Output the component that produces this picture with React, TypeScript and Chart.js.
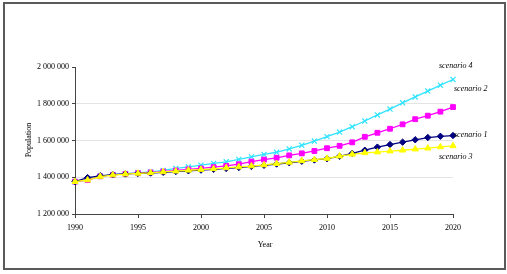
import React, { useEffect, useRef } from "react";
import { Chart, registerables } from "chart.js";

Chart.register(...registerables);

// Years on the horizontal axis
const years = [
  1990, 1991, 1992, 1993, 1994, 1995, 1996, 1997, 1998, 1999, 2000,
  2001, 2002, 2003, 2004, 2005, 2006, 2007, 2008, 2009, 2010,
  2011, 2012, 2013, 2014, 2015, 2016, 2017, 2018, 2019, 2020,
];

// Population projections per scenario
const scenario1 = [
  1376000, 1398000, 1408000, 1414000, 1418000, 1421000, 1423000, 1427000, 1431000, 1435000, 1439000,
  1443000, 1448000, 1453000, 1459000, 1465000, 1472000, 1479000, 1487000, 1494000, 1501000,
  1514000, 1530000, 1547000, 1564000, 1578000, 1591000, 1604000, 1616000, 1623000, 1627000,
];
const scenario2 = [
  1376000, 1385000, 1405000, 1413000, 1418000, 1422000, 1426000, 1431000, 1437000, 1443000, 1448000,
  1455000, 1462000, 1471000, 1485000, 1496000, 1506000, 1519000, 1530000, 1543000, 1558000,
  1571000, 1590000, 1620000, 1642000, 1664000, 1688000, 1716000, 1735000, 1757000, 1782000,
];
const scenario3 = [
  1376000, 1385000, 1404000, 1412000, 1417000, 1421000, 1424000, 1429000, 1433000, 1438000, 1442000,
  1446000, 1451000, 1456000, 1461000, 1467000, 1474000, 1481000, 1489000, 1496000, 1502000,
  1515000, 1525000, 1533000, 1537000, 1542000, 1547000, 1553000, 1558000, 1565000, 1571000,
];
const scenario4 = [
  1376000, 1385000, 1405000, 1414000, 1419000, 1424000, 1429000, 1437000, 1448000, 1457000, 1466000,
  1475000, 1484000, 1497000, 1511000, 1524000, 1536000, 1554000, 1574000, 1597000, 1621000,
  1646000, 1675000, 1706000, 1739000, 1771000, 1805000, 1837000, 1869000, 1901000, 1932000,
];

const seriesNames = ["scenario 1", "scenario 2", "scenario 3", "scenario 4"];
const seriesValues = [scenario1, scenario2, scenario3, scenario4];
const seriesColors = ["#000080", "#ff00ff", "#ffff00", "#30e4ff"];
const seriesMarkers = ["rectRot", "rect", "triangle", "crossRot"];
const seriesRadius = [3.2, 3.4, 3.6, 3.6];
const seriesDrawOrder = [2, 3, 1, 4];

const yMin = 1200000;
const yMax = 2000000;
const yStep = 200000;
const xMin = 1990;
const xMax = 2020;
const xStep = 5;

// End-of-line label offsets (relative to the last point of each series)
const labelOffsets = [
  { dx: 1, dy: -1 },
  { dx: 1, dy: -18 },
  { dx: -14, dy: 11 },
  { dx: -14, dy: -14 },
];

const SERIF = "'Liberation Serif', 'Times New Roman', serif";

const formatThousands = (v: number) =>
  String(Math.round(v)).replace(/\B(?=(\d{3})+(?!\d))/g, " ");

const annotations = {
  id: "annotations",
  afterDatasetsDraw(chart: any) {
    const { ctx } = chart;
    ctx.save();
    ctx.fillStyle = "#000";
    ctx.font = `8px ${SERIF}`;
    ctx.textAlign = "center";
    ctx.textBaseline = "middle";
    // axis titles
    ctx.fillText("Year", 265, 245);
    ctx.save();
    ctx.translate(29, 140);
    ctx.rotate(-Math.PI / 2);
    ctx.fillText("Population", 0, 0);
    ctx.restore();
    // series labels at the line ends
    ctx.font = `italic 8px ${SERIF}`;
    ctx.textAlign = "left";
    seriesNames.forEach((name, i) => {
      const meta = chart.getDatasetMeta(i);
      const last = meta.data[meta.data.length - 1];
      if (!last) return;
      const off = labelOffsets[i];
      ctx.fillText(name, last.x + off.dx, last.y + off.dy);
    });
    ctx.restore();
  },
};

export default function App() {
  const canvasRef = useRef<HTMLCanvasElement | null>(null);

  useEffect(() => {
    if (!canvasRef.current) return;
    const chart = new Chart(canvasRef.current, {
      type: "line",
      data: {
        datasets: seriesNames.map((name, i) => ({
          label: name,
          data: years.map((yr, j) => ({ x: yr, y: seriesValues[i][j] })),
          borderColor: seriesColors[i],
          backgroundColor: seriesColors[i],
          pointBackgroundColor: seriesColors[i],
          pointBorderColor: seriesColors[i],
          pointStyle: seriesMarkers[i] as any,
          pointRadius: seriesRadius[i],
          pointBorderWidth: i === 3 ? 1.2 : 1,
          borderWidth: 1.3,
          tension: 0,
          clip: false as any,
          order: seriesDrawOrder[i],
        })),
      },
      plugins: [annotations],
      options: {
        animation: false,
        responsive: false,
        layout: { padding: { left: 0, right: 54, top: 67, bottom: 0 } },
        plugins: {
          legend: { display: false },
          tooltip: { enabled: false },
        },
        scales: {
          x: {
            type: "linear",
            min: xMin,
            max: xMax,
            afterFit: (s: any) => {
              s.height = 60;
            },
            ticks: {
              stepSize: xStep,
              color: "#000",
              font: { family: SERIF, size: 8 },
              padding: 5,
              maxRotation: 0,
              callback: (v: any) => String(v),
            },
            grid: {
              drawOnChartArea: false,
              drawTicks: true,
              tickLength: 4,
              tickColor: "#444",
            },
            border: { display: true, color: "#444", width: 1 },
          },
          y: {
            type: "linear",
            min: yMin,
            max: yMax,
            afterFit: (s: any) => {
              s.width = 75;
            },
            ticks: {
              stepSize: yStep,
              color: "#000",
              font: { family: SERIF, size: 8 },
              padding: 3,
              callback: (v: any) => formatThousands(Number(v)),
            },
            grid: {
              color: (c: any) =>
                c.tick && (c.tick.value === yMin || c.tick.value === yMax)
                  ? "rgba(0,0,0,0)"
                  : "#e4e4e4",
              lineWidth: 1,
              drawTicks: true,
              tickLength: 3,
              tickColor: "#444",
            },
            border: { display: true, color: "#444", width: 1 },
          },
        },
      },
    });
    return () => chart.destroy();
  }, []);

  return (
    <div
      style={{
        position: "fixed",
        left: 0,
        top: 0,
        width: 507,
        height: 274,
        background: "#fff",
      }}
    >
      <canvas
        ref={canvasRef}
        width={507}
        height={274}
        style={{ position: "absolute", left: 0, top: 0, width: 507, height: 274 }}
      />
      <div
        style={{
          position: "absolute",
          left: 3,
          top: 2,
          width: 499,
          height: 264,
          border: "2px solid #5a5a5a",
          pointerEvents: "none",
        }}
      />
    </div>
  );
}
